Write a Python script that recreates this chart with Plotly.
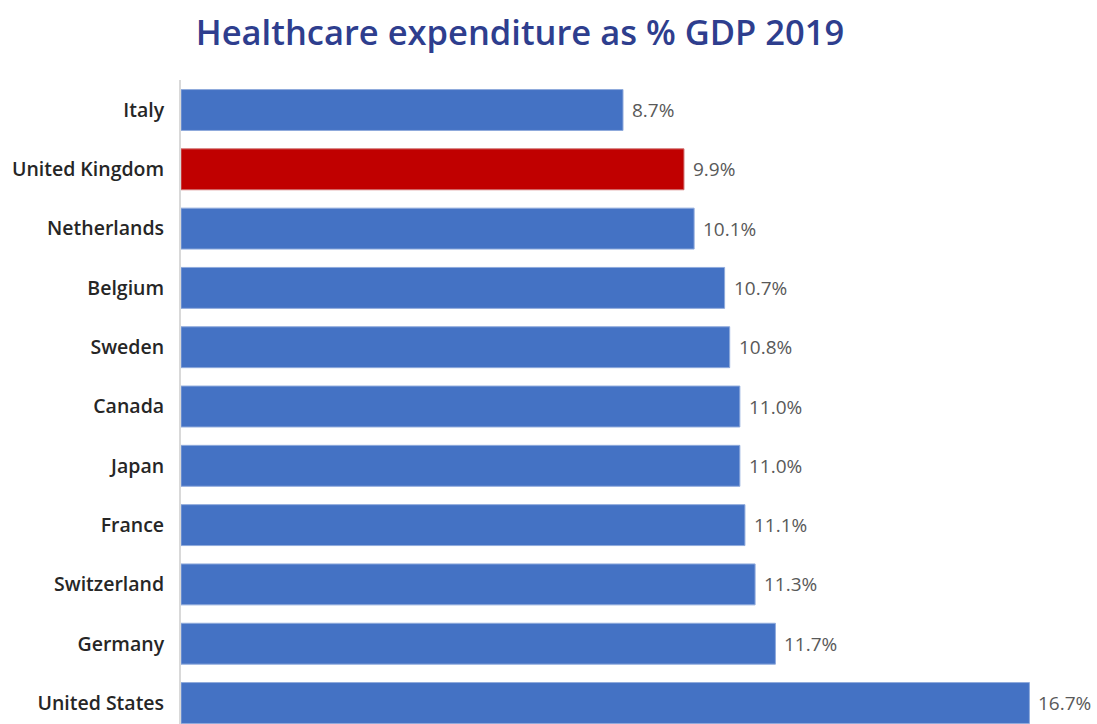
import plotly.graph_objects as go

# Healthcare spending, share of GDP (2019)
countries = ["Italy", "United Kingdom", "Netherlands", "Belgium", "Sweden", "Canada",
             "Japan", "France", "Switzerland", "Germany", "United States"]
spend_pct = [8.7, 9.9, 10.1, 10.7, 10.8, 11.0, 11.0, 11.1, 11.3, 11.7, 16.7]
highlight = "United Kingdom"

BLUE = "#4472C4"
RED = "#C00000"
bar_colors = [RED if c == highlight else BLUE for c in countries]
edge_colors = ["#D07070" if c == highlight else "#8FAADC" for c in countries]

fig = go.Figure(
    go.Bar(
        x=spend_pct,
        y=countries,
        orientation="h",
        marker=dict(color=bar_colors, line=dict(color=edge_colors, width=1)),
        hoverinfo="skip",
    )
)

# value labels to the right of each bar
for c, v in zip(countries, spend_pct):
    fig.add_annotation(
        x=v, y=c, text=f"{v:.1f}%", showarrow=False,
        xanchor="left", yanchor="middle", xshift=7, yshift=0,
        font=dict(family="Open Sans", size=19, color="#595959"),
    )

fig.update_layout(
    width=1097, height=724,
    margin=dict(l=181, r=0, t=80, b=0),
    paper_bgcolor="white", plot_bgcolor="white",
    bargap=0.31,
    showlegend=False,
    title=dict(
        text="Healthcare expenditure as % GDP 2019",
        x=0.474, xanchor="center", y=0.955, yanchor="middle",
        font=dict(family="Open Sans", size=34.5, color="#2E3E8E", weight=600),
    ),
    xaxis=dict(range=[0, 18.03], visible=False, fixedrange=True),
    yaxis=dict(
        type="category",
        range=[10.354, -0.506],
        showline=True, linecolor="#D9D9D9", linewidth=2,
        showgrid=False, zeroline=False,
        ticks="outside", ticklen=11, tickcolor="rgba(0,0,0,0)",
        tickfont=dict(family="Open Sans", size=19.5, color="#262626", weight=600),
        fixedrange=True,
    ),
)

fig.write_html("out.html")
